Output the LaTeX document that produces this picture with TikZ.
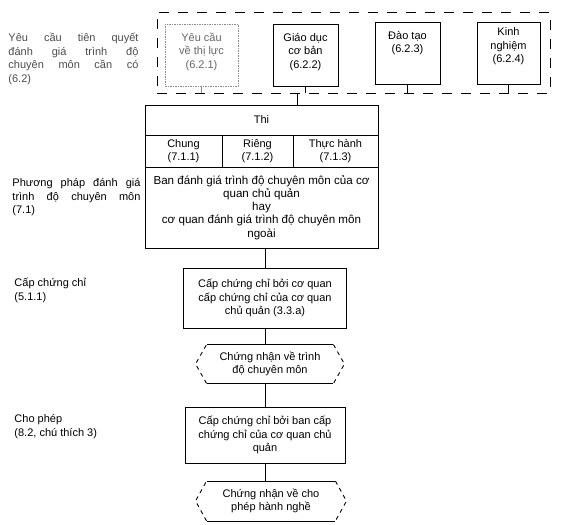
\documentclass[tikz,border=0pt]{standalone}
\usepackage{fontspec}
\setmainfont{Liberation Sans}
\usetikzlibrary{calc}
\begin{document}
\begin{tikzpicture}[x=1pt,y=-1pt,line width=0.9pt,
  every node/.style={font=\fontsize{11}{13.5}\selectfont},
  box/.style={draw, inner sep=0pt, align=center},
  txt/.style={inner sep=0pt, align=center},
  lbl/.style={inner sep=0pt, anchor=north west, align=left},
  faint/.style={draw=black!45, dash pattern=on 1.5pt off 1pt},
  outerdash/.style={draw, dash pattern=on 10pt off 9pt},
  hexside/.style={dash pattern=on 4pt off 4pt}]
\useasboundingbox (0,0) rectangle (576,525);

% left labels
\node[lbl, text=black!70] (l1) at (8,33) {\makebox[130pt][s]{Yêu cầu tiên quyết}\\\makebox[130pt][s]{đánh giá trình độ}\\\makebox[130pt][s]{chuyên môn cần có}\\(6.2)};
\node[lbl] (l2) at (12,178) {\makebox[128pt][s]{Phương pháp đánh giá}\\\makebox[128pt][s]{trình độ chuyên môn}\\(7.1)};
\node[lbl] (l3) at (14,278) {Cấp chứng chỉ\\(5.1.1)};
\node[lbl] (l4) at (14,414) {Cho phép\\(8.2, chú thích 3)};

% prerequisites group
\node[outerdash, inner sep=0pt, minimum width=393pt, minimum height=81pt] (pre) at (353.5,52.5) {};
\node[box, faint, minimum width=73pt, minimum height=62pt] (b1) at (201.5,55) {};
\node[box, minimum width=65pt, minimum height=62pt] (b2) at (305.5,55) {};
\node[box, minimum width=65pt, minimum height=62pt] (b3) at (407.5,53) {};
\node[box, minimum width=63pt, minimum height=62pt] (b4) at (508.5,53) {};
\node[txt, anchor=north, text=black!60] (t1) at ($(b1.north)+(0,9)$) {Yêu cầu\\về thị lực\\(6.2.1)};
\node[txt, anchor=north] (t2) at ($(b2.north)+(0,9)$) {Giáo dục\\cơ bản\\(6.2.2)};
\node[txt, anchor=north] (t3) at ($(b3.north)+(0,9)$) {Đào tạo\\(6.2.3)};
\node[txt, anchor=north] (t4) at ($(b4.north)+(0,6)$) {Kinh\\nghiệm\\(6.2.4)};
\draw[draw=black!45] (b1.south) -- (b1.south |- pre.south);
\draw (b2.south) -- (b2.south |- pre.south);
\draw (b3.south) -- (b3.south |- pre.south);
\draw (b4.south) -- (b4.south |- pre.south);

% assessment box
\node[box, minimum width=233pt, minimum height=30pt] (thi) at (261.5,120) {Thi};
\node[box, minimum width=77pt, minimum height=32pt] (chung) at (183.5,151) {Chung\\(7.1.1)};
\node[box, minimum width=71pt, minimum height=32pt] (rieng) at (257.5,151) {Riêng\\(7.1.2)};
\node[box, minimum width=85pt, minimum height=32pt] (thuc) at (335.5,151) {Thực hành\\(7.1.3)};
\node[box, minimum width=233pt, minimum height=81pt, font=\fontsize{11.6}{13.3}\selectfont] (lower) at (261.5,207.5) {Ban đánh giá trình độ chuyên môn của cơ\\quan chủ quản\\hay\\cơ quan đánh giá trình độ chuyên môn\\ngoài};
\coordinate (j) at (297,93);
\draw (j) -- (j |- thi.north);

% certification chain
\node[box, minimum width=163pt, minimum height=60pt] (cap1) at (265,298) {Cấp chứng chỉ bởi cơ quan\\cấp chứng chỉ của cơ quan\\chủ quản (3.3.a)};
\node[txt, minimum width=148pt, minimum height=38pt] (h1) at (270,364) {Chứng nhận về trình\\độ chuyên môn};
\node[box, minimum width=160pt, minimum height=56pt] (cap2) at (265,435) {Cấp chứng chỉ bởi ban cấp\\chứng chỉ của cơ quan chủ\\quản};
\node[txt, minimum width=150pt, minimum height=39pt] (h2) at (271,501) {Chứng nhận về cho\\phép hành nghề};

\foreach \h in {h1,h2}{
  \draw ($(\h.north west)+(11,0)$) -- ($(\h.north east)+(-11,0)$);
  \draw[hexside] ($(\h.north east)+(-11,0)$) -- (\h.east) -- ($(\h.south east)+(-11,0)$);
  \draw ($(\h.south east)+(-11,0)$) -- ($(\h.south west)+(11,0)$);
  \draw[hexside] ($(\h.south west)+(11,0)$) -- (\h.west) -- ($(\h.north west)+(11,0)$);
}

\draw (cap1.north |- lower.south) -- (cap1.north);
\draw (cap1.south) -- (cap1.south |- h1.north);
\draw (cap1.south |- h1.south) -- (cap2.north);
\draw (cap2.south) -- (cap2.south |- h2.north);
\end{tikzpicture}
\end{document}
